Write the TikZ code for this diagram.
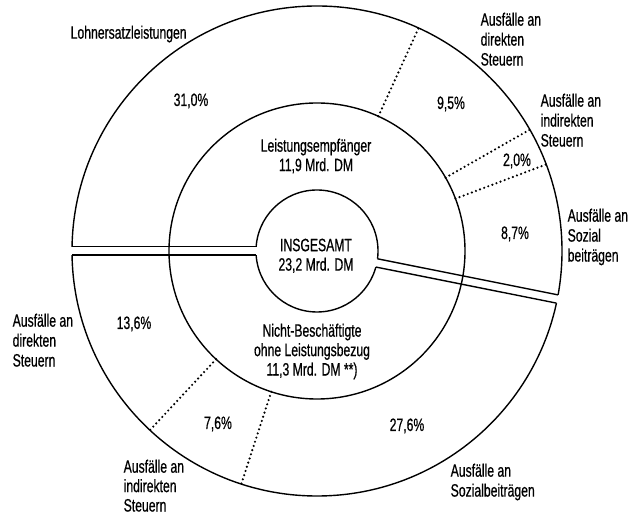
\documentclass[tikz,border=0pt]{standalone}
\usepackage{fontspec}
\setmainfont{Liberation Sans}[FakeStretch=0.68,FakeBold=0.6]
\begin{document}
\begin{tikzpicture}[x=1bp,y=1bp,line width=1.4pt,
  lbl/.style={font=\fontsize{18}{20}\selectfont,inner sep=0pt,align=left},
  ctr/.style={font=\fontsize{18}{19.5}\selectfont,inner sep=0pt,align=center},
  pct/.style={font=\fontsize{18}{20}\selectfont,inner sep=0pt},
  dotline/.style={line width=2.4pt,line cap=round,dash pattern=on 0pt off 4.4pt},
  gapfill/.style={fill=white,draw=none}]
\useasboundingbox (0,0) rectangle (638,517);
\coordinate (C) at (317,266);
\begin{scope}[shift={(C)}]
  % outer and inner circles
  \draw (0,0) circle (245);
  \draw (0,0) circle (61);
  % white strips (gaps)
  \fill[gapfill,rotate=180] (54,-4.2) rectangle (252,4.2);
  \fill[gapfill,rotate=-11.3] (54,-4.2) rectangle (252,4.2);
  % middle circle crosses the strips
  \draw (0,0) circle (148);
  % strip borders
  \foreach \a in {180,-11.3}{
    \draw[rotate=\a] (60.86,4.2) -- (244.96,4.2);
    \draw[rotate=\a] (60.86,-4.2) -- (244.96,-4.2);
  }
  % dotted separators
  \foreach \a in {65.5,29.7,20.7,227,252}{
    \draw[dotline] (\a:148) -- (\a:245);
  }
\end{scope}
% labels
\node[lbl,anchor=north west] (lohn) at (70,492) {Lohnersatzleistungen};
\node[pct,anchor=base] (p31) at (191,411) {31,0\%};
\node[ctr,anchor=north] (lemp) at (316,379) {Leistungsempfänger\\11,9 Mrd. DM};
\node[ctr,anchor=north] (ins) at (316,279) {INSGESAMT\\23,2 Mrd. DM};
\node[ctr,anchor=north] (nb) at (312,194) {Nicht-Beschäftigte\\ohne Leistungsbezug\\11,3 Mrd. DM **)};
\node[pct,anchor=base] (p95) at (451,408) {9,5\%};
\node[pct,anchor=base] (p20) at (517,351) {2,0\%};
\node[pct,anchor=base] (p87) at (515,278) {8,7\%};
\node[lbl,anchor=north west] (adtr) at (480,505) {Ausfälle an\\direkten\\Steuern};
\node[lbl,anchor=north west] (aitr) at (540,424) {Ausfälle an\\indirekten\\Steuern};
\node[lbl,anchor=north west] (asr) at (567,309) {Ausfälle an\\Sozial\\beiträgen};
\node[lbl,anchor=north west] (adl) at (12,204) {Ausfälle an\\direkten\\Steuern};
\node[pct,anchor=base] (p136) at (134,188) {13,6\%};
\node[pct,anchor=base] (p76) at (218,88) {7,6\%};
\node[lbl,anchor=north west,font=\fontsize{18}{19.5}\selectfont] (aib) at (123,58) {Ausfälle an\\indirekten\\Steuern};
\node[pct,anchor=base] (p276) at (407,86) {27,6\%};
\node[lbl,anchor=north west] (asb) at (450,54) {Ausfälle an\\Sozialbeiträgen};
\end{tikzpicture}
\end{document}
